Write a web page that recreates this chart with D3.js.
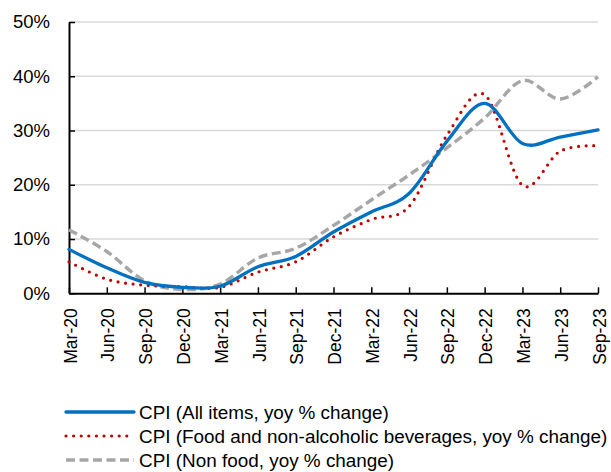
<!DOCTYPE html>
<html>
<head>
<meta charset="utf-8">
<script src="https://cdn.jsdelivr.net/npm/d3@7"></script>
<style>
  html, body { margin: 0; padding: 0; background: #fff; }
  svg { display: block; }
  text { font-family: "Liberation Sans", Arial, sans-serif; fill: #000; }
</style>
</head>
<body>
<svg id="chart" width="611" height="472"></svg>
<script>
// ---- data ----
const quarters = ["Mar-20","Jun-20","Sep-20","Dec-20","Mar-21","Jun-21","Sep-21","Dec-21",
                  "Mar-22","Jun-22","Sep-22","Dec-22","Mar-23","Jun-23","Sep-23"];
const cpiAll     = [8.1, 4.7, 2.0, 1.1, 1.3, 4.9, 6.8, 11.3, 15.0, 18.4, 28.0, 35.0, 27.6, 28.8, 30.1];
const cpiFood    = [5.8, 2.6, 1.5, 1.2, 1.1, 3.9, 5.8, 10.4, 13.6, 16.0, 29.1, 36.6, 19.9, 26.2, 27.2];
const cpiNonFood = [11.7, 7.7, 2.3, 0.7, 1.7, 6.5, 8.3, 12.5, 17.2, 21.8, 26.8, 32.3, 39.2, 35.8, 39.9];
const yTicks = [0, 10, 20, 30, 40, 50];
const seriesNames = ["CPI (All items, yoy % change)",
                     "CPI (Food and non-alcoholic beverages, yoy % change)",
                     "CPI (Non food, yoy % change)"];

// ---- layout ----
const svg = d3.select("#chart");
const plotL = 69, plotR = 598, plotT = 22, plotB = 293.3;

const x = d3.scaleLinear().domain([0, quarters.length - 1]).range([plotL, plotR]);
const y = d3.scaleLinear().domain([0, 50]).range([plotB, plotT]);

// gridlines
svg.append("g").selectAll("line")
  .data(yTicks.filter(d => d > 0))
  .join("line")
  .attr("x1", plotL).attr("x2", plotR)
  .attr("y1", d => y(d)).attr("y2", d => y(d))
  .attr("stroke", "#D9D9D9").attr("stroke-width", 1.5);

// y axis
const yAxis = svg.append("g")
  .attr("transform", `translate(${plotL},0)`)
  .call(d3.axisLeft(y).tickValues(yTicks).tickFormat(d => d + "%")
        .tickSizeInner(-6).tickSizeOuter(0).tickPadding(19));
yAxis.select(".domain").attr("stroke", "#000").attr("stroke-width", 2);
yAxis.selectAll(".tick line").attr("stroke", "#000").attr("stroke-width", 1.5);
yAxis.selectAll("text").style("font-size", "18.5px");

// x axis
const xAxis = svg.append("g")
  .attr("transform", `translate(0,${plotB})`)
  .call(d3.axisBottom(x).tickValues(d3.range(quarters.length)).tickFormat(i => quarters[i])
        .tickSizeInner(-6).tickSizeOuter(0));
xAxis.select(".domain").attr("stroke", "#000").attr("stroke-width", 2);
xAxis.selectAll(".tick line").attr("stroke", "#000").attr("stroke-width", 1.5);
xAxis.selectAll("text")
  .attr("x", 0).attr("y", 0).attr("dy", "0.35em")
  .attr("transform", "translate(1,15) rotate(-90)")
  .style("text-anchor", "end")
  .style("font-size", "17.5px");

// lines
const line = d3.line()
  .x((d, i) => x(i))
  .y(d => y(d))
  .curve(d3.curveCardinal.tension(0));

const styles = [
  { data: cpiAll, color: "#0070C0", width: 3.3, dash: null, cap: "round" },
  { data: cpiFood, color: "#C00000", width: 3.2, dash: "0,7.6", cap: "round" },
  { data: cpiNonFood, color: "#A6A6A6", width: 3.4, dash: "9,4.5", cap: "butt" }
];

const drawOrder = [2, 1, 0];
drawOrder.forEach(k => {
  const s = styles[k];
  svg.append("path")
    .datum(s.data)
    .attr("d", line)
    .attr("fill", "none")
    .attr("stroke", s.color)
    .attr("stroke-width", s.width)
    .attr("stroke-linecap", s.cap)
    .attr("stroke-dasharray", s.dash);
});

// legend
const legend = svg.append("g");
const legY = [412, 436, 460];
seriesNames.forEach((name, k) => {
  const s = styles[k];
  legend.append("line")
    .attr("x1", 66).attr("x2", 134)
    .attr("y1", legY[k]).attr("y2", legY[k])
    .attr("stroke", s.color)
    .attr("stroke-width", s.width)
    .attr("stroke-linecap", s.cap)
    .attr("stroke-dasharray", s.dash);
  legend.append("text")
    .attr("x", 139).attr("y", legY[k]).attr("dy", "0.35em")
    .style("font-size", "18.9px")
    .text(name);
});
</script>
</body>
</html>
